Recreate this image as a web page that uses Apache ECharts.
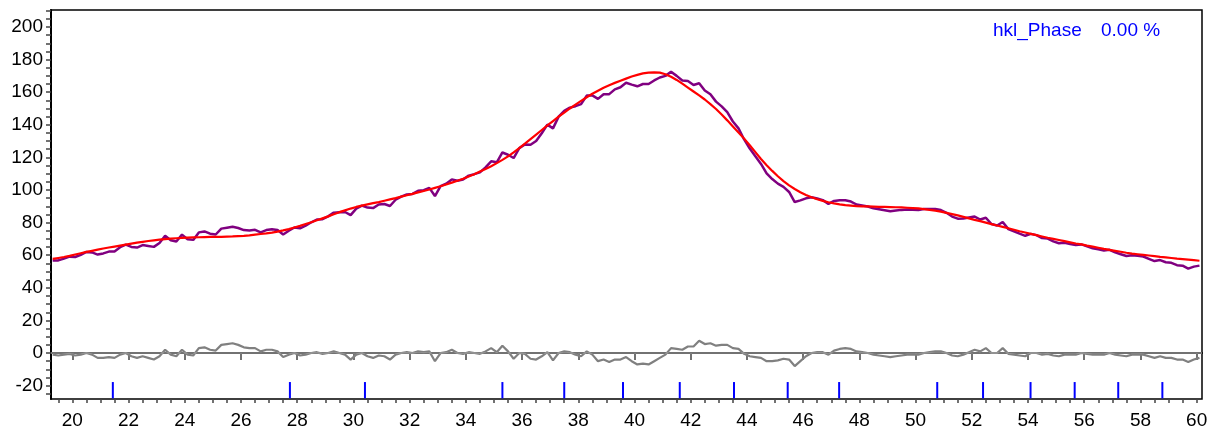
<!DOCTYPE html>
<html><head><meta charset="utf-8">
<script src="https://cdn.jsdelivr.net/npm/echarts@6/dist/echarts.min.js"></script>
<style>html,body{margin:0;padding:0;background:#fff}#c{width:1215px;height:430px}</style>
</head><body><div id="c"></div>
<script>
// 2-theta scan grid (degrees)
const twoThetaStart = 19.3;
const twoThetaStep = 0.2;

// observed intensity (purple), one value per grid step from 19.3 to 60.1
const observed = [
56.7,56.8,57.9,59.1,58.9,60.2,62.0,61.7,60.4,61.1,
62.2,62.3,64.9,66.5,65.1,64.7,66.2,65.7,65.1,67.5,
71.9,69.2,68.4,72.6,69.8,69.4,74.0,74.6,73.2,72.7,
76.3,76.9,77.5,76.7,75.4,75.2,75.6,74.0,75.4,75.9,
75.5,72.7,75.0,77.0,76.5,78.1,80.2,81.9,82.1,83.8,
86.1,86.4,86.5,84.6,88.6,90.4,89.2,88.9,91.1,91.4,
90.2,94.0,95.9,97.3,97.6,99.5,99.9,101.3,96.3,102.3,
103.9,106.5,105.7,106.4,108.8,109.7,110.8,113.9,117.6,117.0,
123.0,121.6,119.6,125.7,127.9,127.7,130.0,134.8,140.1,137.8,
145.0,148.5,150.5,151.4,152.7,157.9,158.0,155.9,158.7,158.8,
161.7,163.0,165.8,164.6,163.6,165.0,165.0,167.2,169.0,170.0,
172.5,170.0,167.2,166.8,164.4,165.5,161.0,158.7,154.2,151.3,
147.7,142.0,137.8,131.0,125.4,120.7,116.0,110.2,106.7,103.9,
101.9,98.8,92.6,93.6,94.9,95.5,94.8,93.8,91.5,93.3,
93.7,93.7,92.9,91.1,90.5,89.9,88.8,88.2,87.6,87.0,
87.4,87.8,88.1,87.9,87.7,88.3,88.3,88.3,87.7,86.0,
83.7,82.4,82.5,83.1,83.7,81.9,83.0,79.1,78.2,80.4,
76.0,74.6,73.2,71.9,73.1,72.3,70.5,70.2,68.5,67.3,
67.6,66.9,66.2,66.6,65.4,64.3,63.6,62.9,63.3,61.7,
60.6,59.5,60.0,59.6,59.2,57.8,56.4,57.0,55.7,55.3,
53.9,53.6,51.8,53.0,53.6
];

// calculated intensity (red), same grid
const calculated = [
57.7,58.3,58.9,59.6,60.4,61.2,62.0,62.7,63.4,64.1,
64.7,65.3,65.9,66.5,67.1,67.7,68.2,68.7,69.1,69.5,
69.9,70.2,70.4,70.6,70.8,70.9,71.0,71.1,71.2,71.2,
71.3,71.4,71.5,71.7,71.9,72.2,72.6,73.0,73.4,73.9,
74.5,75.2,76.0,77.0,78.0,79.1,80.2,81.4,82.6,83.8,
85.1,86.4,87.5,88.6,89.6,90.4,91.2,91.9,92.6,93.4,
94.2,95.0,95.9,96.8,97.6,98.5,99.4,100.3,101.3,102.3,
103.4,104.5,105.7,106.9,108.3,109.7,111.3,112.9,114.6,116.5,
118.5,120.6,123.1,125.7,128.4,131.2,134.0,136.8,139.6,142.3,
145.0,147.5,150.0,152.4,154.7,156.9,159.0,160.9,162.7,164.3,
165.7,167.0,168.3,169.6,170.6,171.5,172.0,172.2,172.0,171.0,
169.5,167.5,165.2,162.8,160.4,158.0,155.5,152.7,149.7,146.3,
142.7,139.0,135.3,131.5,127.4,123.2,119.0,115.2,111.7,108.4,
105.4,102.8,100.6,98.6,96.9,95.5,94.3,93.3,92.5,91.8,
91.2,90.7,90.4,90.1,90.0,89.9,89.8,89.7,89.6,89.5,
89.4,89.3,89.1,88.9,88.7,88.3,87.8,87.3,86.7,86.0,
85.2,84.4,83.5,82.6,81.7,80.9,80.0,79.1,78.2,77.4,
76.5,75.6,74.7,73.9,73.1,72.3,71.5,70.7,70.0,69.3,
68.6,67.9,67.2,66.6,65.9,65.3,64.6,63.9,63.3,62.7,
62.1,61.5,61.0,60.6,60.2,59.8,59.4,59.0,58.7,58.3,
57.9,57.6,57.3,57.0,56.6
];

// reflection (hkl) positions, blue ticks
const hklPositions = [21.44,27.74,30.41,35.30,37.50,39.59,41.61,43.54,45.45,47.28,50.77,52.40,54.09,55.66,57.21,58.78];

// tick labels
const xTickLabels = [20,22,24,26,28,30,32,34,36,38,40,42,44,46,48,50,52,54,56,58,60];
const yTickLabels = [-20,0,20,40,60,80,100,120,140,160,180,200];

// legend text
const phaseName = 'hkl_Phase';
const phaseValue = '0.00 %';

// ---- build chart data ----
const twoTheta = observed.map((_, i) => +(twoThetaStart + i * twoThetaStep).toFixed(2));
const obsData = twoTheta.map((x, i) => [x, observed[i]]);
const calcData = twoTheta.map((x, i) => [x, calculated[i]]);
const diffData = twoTheta.map((x, i) => [x, +(observed[i] - calculated[i]).toFixed(2)]);

const xMinorTicks = [];
for (let v = 19.5; v <= 60.001; v += 0.5) xMinorTicks.push(+v.toFixed(1));
const yMinorTicks = [];
for (let v = -25; v <= 210; v += 5) yMinorTicks.push(v);

const X_MIN = 19.24, X_MAX = 60.19, Y_MIN = -28.2, Y_MAX = 210.4;
const HKL_TOP = -17.8, HKL_BOTTOM = -27.8;
const FONT = '"Liberation Sans", Arial, sans-serif';

const chart = echarts.init(document.getElementById('c'), null, {renderer: 'canvas'});
chart.setOption({
  animation: false,
  backgroundColor: '#fff',
  grid: {left: 51, right: 13, top: 10, bottom: 31, show: true, borderColor: '#000', borderWidth: 1.5, containLabel: false},
  xAxis: [{
    type: 'value', min: X_MIN, max: X_MAX, position: 'bottom',
    axisLine: {show: true, lineStyle: {color: '#000', width: 2}},
    axisTick: {show: true, customValues: xTickLabels, length: 7, lineStyle: {color: '#444', width: 1.5}},
    axisLabel: {customValues: xTickLabels, fontSize: 19, color: '#000', fontFamily: FONT, margin: 12},
    splitLine: {show: false}
  }, {
    type: 'value', min: X_MIN, max: X_MAX, position: 'bottom',
    axisLine: {show: false},
    axisTick: {show: true, customValues: xMinorTicks, length: 4, lineStyle: {color: '#444', width: 1.5}},
    axisLabel: {show: false},
    splitLine: {show: false}
  }],
  yAxis: {
    type: 'value', min: Y_MIN, max: Y_MAX,
    axisLine: {show: true, lineStyle: {color: '#000', width: 2}},
    axisTick: {show: true, customValues: yMinorTicks, length: 5, lineStyle: {color: '#444', width: 1.5}},
    axisLabel: {customValues: yTickLabels, fontSize: 19, color: '#000', fontFamily: FONT, margin: 8},
    splitLine: {show: false}
  },
  series: [{
    name: 'diff', type: 'line', data: diffData, showSymbol: false, symbol: 'none',
    lineStyle: {color: '#808080', width: 2.2},
    markLine: {silent: true, symbol: 'none', label: {show: false},
      lineStyle: {color: '#999', width: 1.5, type: 'solid'}, data: [{yAxis: 0}]}
  }, {
    name: 'obs', type: 'line', data: obsData, showSymbol: false, symbol: 'none',
    lineStyle: {color: '#800080', width: 2.5}
  }, {
    name: 'calc', type: 'line', data: calcData, showSymbol: false, symbol: 'none',
    lineStyle: {color: '#ff0000', width: 2.2}
  }, {
    name: 'hkl', type: 'custom', data: hklPositions.map(p => [p]),
    renderItem: function (params, api) {
      const a = api.coord([api.value(0), HKL_TOP]);
      const b = api.coord([api.value(0), HKL_BOTTOM]);
      return {type: 'line', shape: {x1: a[0], y1: a[1], x2: b[0], y2: b[1]},
        style: {stroke: '#0000ff', lineWidth: 2}};
    }
  }],
  graphic: [
    {type: 'text', left: 993, top: 21, style: {text: phaseName, fill: '#0000ff', font: '19px ' + FONT}},
    {type: 'text', left: 1101, top: 21, style: {text: phaseValue, fill: '#0000ff', font: '19px ' + FONT}}
  ]
});
</script></body></html>
